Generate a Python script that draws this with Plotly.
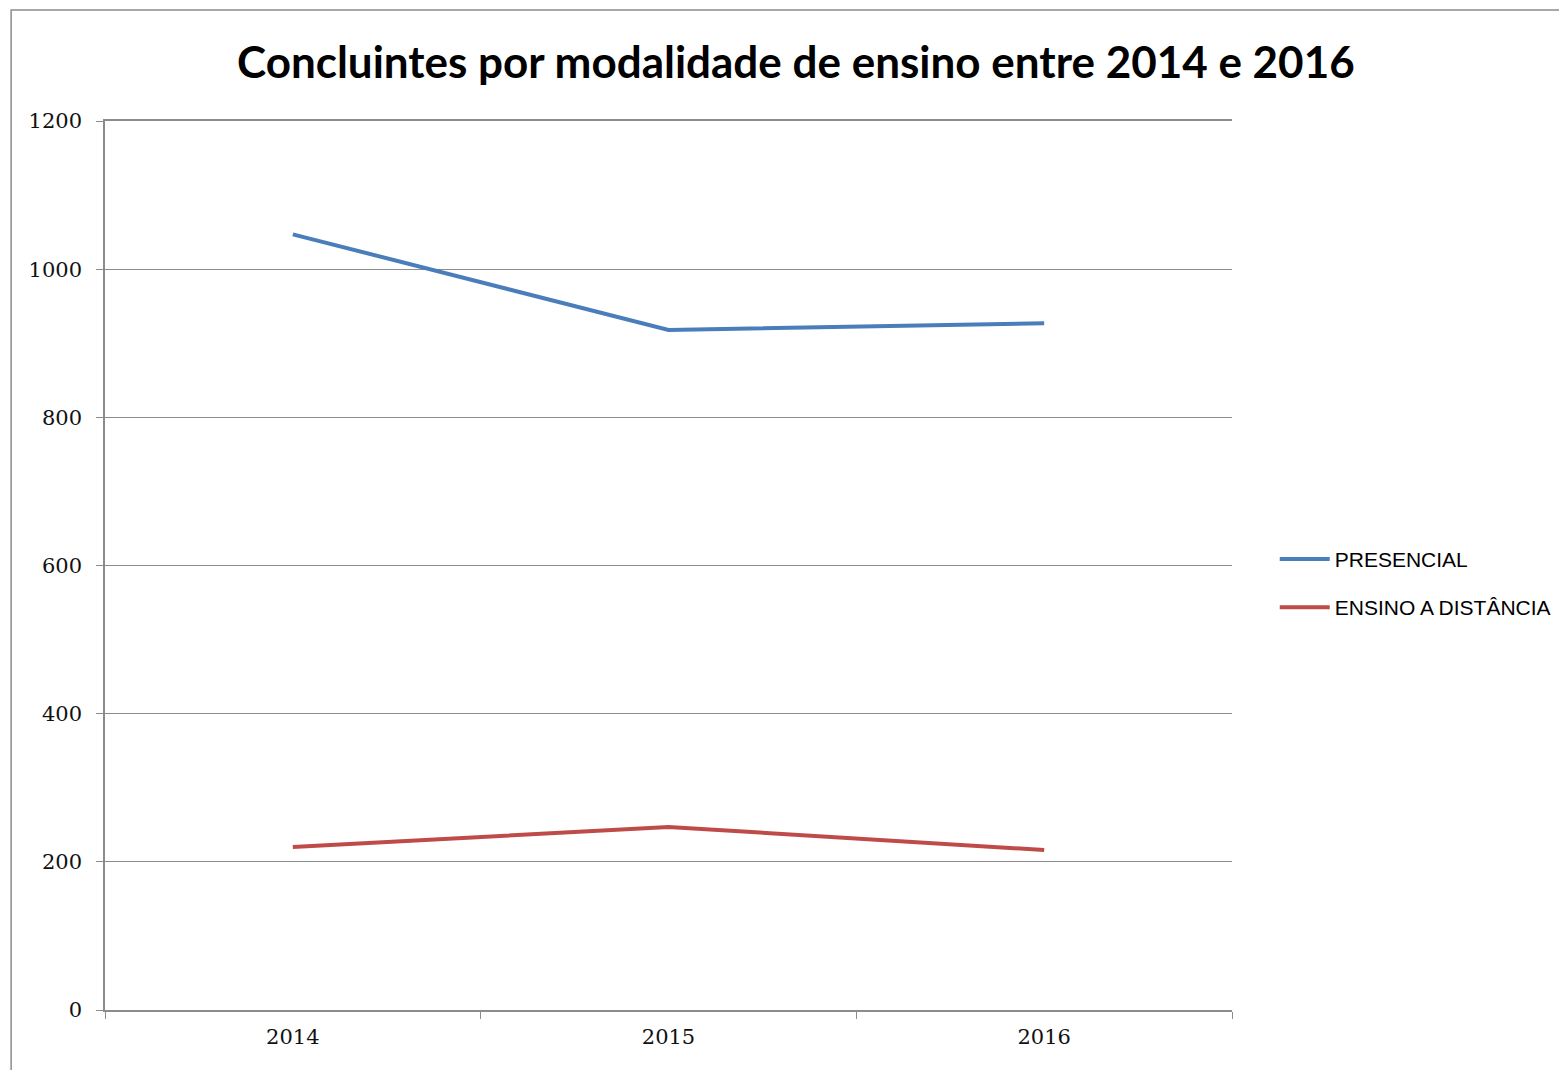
import plotly.graph_objects as go

anos = ['2014', '2015', '2016']
presencial = [1047, 918, 927]
ensino_distancia = [220, 247, 216]

fig = go.Figure()

fig.add_trace(go.Scatter(
    x=anos, y=presencial, mode='lines', name='PRESENCIAL',
    legendgroup='a',
    line=dict(color='#4A7EBB', width=4)
))
fig.add_trace(go.Scatter(
    x=anos, y=ensino_distancia, mode='lines', name='ENSINO A DISTÂNCIA',
    legendgroup='b',
    line=dict(color='#BE4B48', width=4)
))

# outer frame of the chart (only top and left edges are visible)
fig.add_shape(type='rect', xref='paper', yref='paper',
              x0=-0.0833, x1=1.5, y0=-0.2, y1=1.1249,
              line=dict(color='#8c8c8c', width=1.5), layer='below')

tick_font = dict(family='DejaVu Serif, Liberation Serif, serif', size=21, color='#111')

fig.update_layout(
    width=1559, height=1062,
    margin=dict(l=97, r=334, t=113, b=60),
    paper_bgcolor='white', plot_bgcolor='white',
    title=dict(text='<b>Concluintes por modalidade de ensino entre 2014 e 2016</b>',
               x=0.613, xref='paper', xanchor='center',
               y=0.949, yref='container', yanchor='middle',
               font=dict(family='Lato, Open Sans, sans-serif', size=44, color='black')),
    showlegend=True,
    legend=dict(x=1.037, y=0.48, xanchor='left', yanchor='middle',
                font=dict(family='Liberation Sans Narrow, Liberation Sans, sans-serif', size=21, color='black'),
                itemwidth=50, tracegroupgap=18, bgcolor='rgba(0,0,0,0)'),
    xaxis=dict(type='category', range=[-0.5, 2.5], tickson='boundaries',
               ticks='outside', ticklen=7, tickcolor='#8c8c8c',
               showline=True, linecolor='#8c8c8c', linewidth=1.5, mirror=True,
               showgrid=False, zeroline=False, ticklabelstandoff=7,
               tickfont=tick_font),
    yaxis=dict(range=[0, 1200], dtick=200, ticks='outside', ticklen=7, tickcolor='#8c8c8c',
               showline=True, linecolor='#8c8c8c', linewidth=1.5,
               showgrid=True, gridcolor='#8c8c8c', gridwidth=1.2, zeroline=False,
               ticklabelstandoff=10, tickfont=tick_font),
)

fig.write_html('out.html')
